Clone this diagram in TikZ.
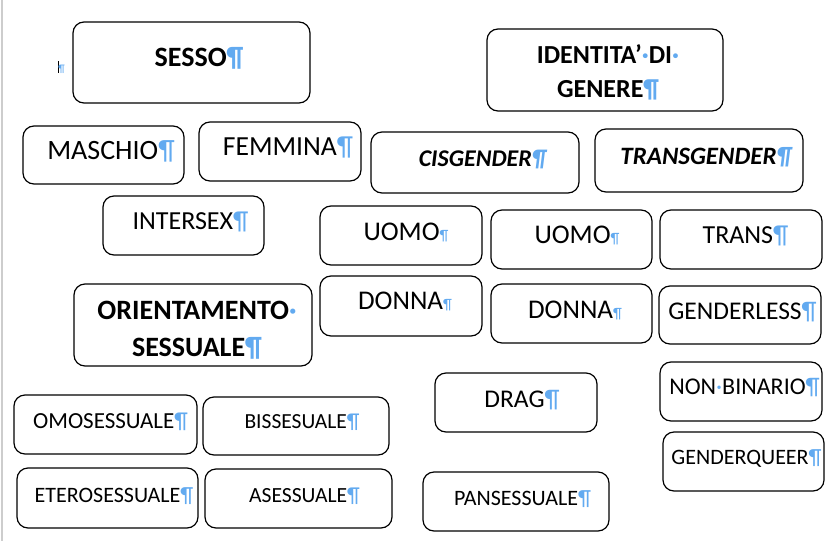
\documentclass[tikz,border=0pt]{standalone}
\usepackage{fontspec}
\setmainfont{Carlito}
\usepackage{xcolor}
\usetikzlibrary{positioning}
\definecolor{pilblue}{RGB}{98,170,240}
\definecolor{rulegray}{RGB}{205,205,205}
\newcommand{\pil}{{\color{pilblue}¶}}
\newcommand{\spil}{{\color{pilblue}\fontsize{15}{15}\selectfont ¶}}
\newcommand{\mdot}{{\color{pilblue}·}}

\begin{document}
\begin{tikzpicture}[x=1pt,y=-1pt,
  box/.style={draw,rounded corners=11pt,line width=1.2pt},
  lbl/.style={anchor=base,inner sep=0pt,font=\fontsize{#1}{#1}\selectfont}]
  \useasboundingbox (0,0) rectangle (840,541);
  \draw[rulegray,line width=1.5pt] (2,0) -- (2,541);
  \draw[line width=0.9pt] (58,61) -- (58,73);
  \node[lbl=11] (cursor) at (61.5,72) {\pil};

  \draw[box] (73,22) rectangle (310,103);
  \node[lbl=28] (sesso) at (199,66) {\bfseries SESSO\pil};
  \draw[box] (487,29) rectangle (723,111);
  \node[lbl=26,align=center,font=\fontsize{26}{34}\selectfont] (identita) at (608,97)
    {\bfseries IDENTITA’\mdot DI\mdot\\\bfseries GENERE\pil};

  \draw[box] (23,126) rectangle (184,184);
  \node[lbl=28] (maschio) at (111,159) {MASCHIO\pil};
  \draw[box] (199,122) rectangle (361,181);
  \node[lbl=27.6] (femmina) at (288,155) {FEMMINA\pil};
  \draw[box] (371,132) rectangle (579,193);
  \node[lbl=24] (cis) at (482.5,166) {\bfseries\itshape CISGENDER\pil};
  \draw[box] (595,129) rectangle (803,192);
  \node[lbl=25] (transgender) at (706,164) {\bfseries\itshape TRANSGENDER\pil};

  \draw[box] (103,196) rectangle (264,255);
  \node[lbl=26] (intersex) at (190.5,229) {INTERSEX\pil};
  \draw[box] (320,206) rectangle (482,265);
  \node[lbl=27] (uomoa) at (406,240) {UOMO\spil};
  \draw[box] (491,210) rectangle (652,269);
  \node[lbl=27] (uomob) at (577,243) {UOMO\spil};
  \draw[box] (660,210) rectangle (822,269);
  \node[lbl=26] (trans) at (745.5,243) {TRANS\pil};

  \draw[box] (74,284) rectangle (312,366);
  \node[lbl=28,align=center,font=\fontsize{28}{37}\selectfont] (orient) at (197,356)
    {\bfseries ORIENTAMENTO\mdot\\\bfseries SESSUALE\pil};
  \draw[box] (320,276) rectangle (482,336);
  \node[lbl=27] (donnaa) at (405,309) {DONNA\spil};
  \draw[box] (491,284) rectangle (652,343);
  \node[lbl=27] (donnab) at (575,318) {DONNA\spil};
  \draw[box] (659,286) rectangle (821,344);
  \node[lbl=25.5] (genderless) at (742.5,319) {GENDERLESS\pil};

  \draw[box] (435,373) rectangle (597,432);
  \node[lbl=25.5] (drag) at (522,407) {DRAG\pil};
  \draw[box] (660,362) rectangle (822,421);
  \node[lbl=24] (nonbin) at (744.5,394) {NON\mdot BINARIO\pil};
  \draw[box] (663,432) rectangle (824,491);
  \node[lbl=22] (gqueer) at (746.5,464) {GENDERQUEER\pil};

  \draw[box] (14,395) rectangle (197,454);
  \node[lbl=23] (omo) at (110.5,428) {OMOSESSUALE\pil};
  \draw[box] (203,397) rectangle (389,455);
  \node[lbl=21.5] (bis) at (302,428) {BISSESUALE\pil};
  \draw[box] (17,468) rectangle (198,528);
  \node[lbl=22] (etero) at (114,502) {ETEROSESSUALE\pil};
  \draw[box] (205,469) rectangle (392,528);
  \node[lbl=21.6] (ases) at (304.5,502) {ASESSUALE\pil};
  \draw[box] (423,472) rectangle (609,531);
  \node[lbl=22] (pans) at (522.5,505) {PANSESSUALE\pil};
\end{tikzpicture}
\end{document}
